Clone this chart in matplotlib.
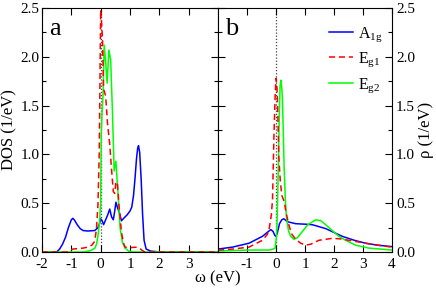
import matplotlib
matplotlib.use("Agg")
import matplotlib.pyplot as plt
from matplotlib.ticker import MultipleLocator

plt.rcParams['font.family'] = ['Liberation Serif', 'DejaVu Serif']
plt.rcParams['mathtext.fontset'] = 'custom'
plt.rcParams['mathtext.rm'] = 'Liberation Serif'
plt.rcParams['mathtext.it'] = 'Liberation Serif'
plt.rcParams['axes.unicode_minus'] = False

# ---- panel a ----
a_A1g_x = [-2.0, -1.5, -1.4, -1.3, -1.2, -1.1, -1.0, -0.95, -0.9, -0.8, -0.7, -0.6, -0.44, -0.2, -0.09, -0.03,
           0.0, 0.05, 0.1, 0.17, 0.24, 0.31, 0.37, 0.43, 0.48, 0.52, 0.58, 0.64, 0.71, 0.8, 0.9, 1.0, 1.06,
           1.12, 1.17, 1.22, 1.26, 1.29, 1.33, 1.38, 1.43, 1.48, 1.55, 1.7, 2.0, 4.0]
a_A1g_y = [0.0, 0.0, 0.03, 0.08, 0.15, 0.25, 0.33, 0.345, 0.33, 0.28, 0.24, 0.22, 0.215, 0.22, 0.25, 0.3,
           0.34, 0.32, 0.28, 0.33, 0.38, 0.44, 0.36, 0.33, 0.42, 0.51, 0.45, 0.4, 0.32, 0.35, 0.38, 0.42, 0.46,
           0.58, 0.75, 0.95, 1.06, 1.09, 1.02, 0.75, 0.38, 0.12, 0.03, 0.01, 0.0, 0.0]

a_Eg1_x = [-2.0, -1.3, -1.13, -0.95, -0.6, -0.44, -0.3, -0.2, -0.14, -0.09, -0.05, -0.03, 0.0, 0.03, 0.06,
           0.1, 0.17, 0.23, 0.31, 0.37, 0.43, 0.48, 0.52, 0.57, 0.63, 0.71, 0.78, 0.83, 1.0, 1.23, 1.32, 1.4, 1.5,
           2.0, 4.0]
a_Eg1_y = [0.0, 0.0, 0.0, 0.03, 0.04, 0.05, 0.07, 0.11, 0.25, 0.5, 1.0, 1.55, 2.48, 2.35, 2.2,
           1.67, 1.6, 1.33, 1.1, 0.85, 0.62, 0.6, 0.72, 0.7, 0.46, 0.2, 0.09, 0.05, 0.045, 0.05, 0.04, 0.02, 0.0,
           0.0, 0.0]

a_Eg2_x = [-2.0, -0.6, -0.4, -0.3, -0.2, -0.14, -0.09, -0.04, 0.0, 0.02, 0.05, 0.08, 0.12, 0.17, 0.22,
           0.28, 0.34, 0.4, 0.46, 0.52, 0.58, 0.66, 0.74, 0.83, 0.95, 1.1, 4.0]
a_Eg2_y = [0.0, 0.0, 0.01, 0.02, 0.04, 0.08, 0.17, 0.3, 0.51, 1.2, 1.45, 1.6, 2.12, 1.95, 1.73,
           2.07, 1.97, 1.45, 0.83, 0.93, 0.65, 0.25, 0.1, 0.04, 0.01, 0.0, 0.0]

# ---- panel b ----
b_A1g_x = [-2.0, -1.5, -0.93, -0.47, -0.18, -0.1, -0.04, 0.0, 0.05, 0.12, 0.2, 0.27, 0.4, 0.68, 1.0, 1.25,
           1.71, 2.0, 2.29, 2.7, 3.09, 3.5, 4.0]
b_A1g_y = [0.03, 0.05, 0.09, 0.16, 0.23, 0.21, 0.17, 0.16, 0.2, 0.29, 0.33, 0.34, 0.31, 0.29, 0.285, 0.28,
           0.24, 0.2, 0.16, 0.12, 0.09, 0.07, 0.055]

b_Eg1_x = [-2.0, -1.5, -0.93, -0.47, -0.3, -0.24, -0.16, -0.12, -0.07, -0.03, 0.0, 0.03, 0.05, 0.1, 0.15,
           0.2, 0.28, 0.35, 0.45, 0.55, 0.68, 0.85, 1.02, 1.2, 1.48, 1.94, 2.2, 2.52, 3.09, 3.5, 4.0]
b_Eg1_y = [0.02, 0.03, 0.05, 0.12, 0.18, 0.23, 0.38, 0.54, 1.2, 1.6, 1.78, 1.7, 1.57, 0.96, 0.72,
           0.58, 0.52, 0.4, 0.27, 0.18, 0.13, 0.09, 0.07, 0.08, 0.12, 0.14, 0.135, 0.12, 0.09, 0.07, 0.05]

b_Eg2_x = [-2.0, -0.93, -0.24, -0.1, -0.03, 0.02, 0.05, 0.08, 0.11, 0.14, 0.17, 0.2, 0.22, 0.25, 0.28,
           0.32, 0.36, 0.43, 0.51, 0.62, 0.75, 0.91, 1.1, 1.37, 1.55, 1.71, 1.9, 2.17, 2.4, 2.75, 3.2, 4.0]
b_Eg2_y = [0.01, 0.02, 0.02, 0.03, 0.04, 0.17, 0.45, 0.87, 1.35, 1.7, 1.76, 1.68, 1.58, 1.25, 0.87,
           0.55, 0.36, 0.22, 0.16, 0.13, 0.15, 0.21, 0.28, 0.33, 0.32, 0.28, 0.23, 0.16, 0.12, 0.07, 0.04, 0.02]

xticks_a = [-2, -1, 0, 1, 2, 3]
xticks_b = [-1, 0, 1, 2, 3, 4]
yticks = [0.0, 0.5, 1.0, 1.5, 2.0, 2.5]

BLUE, RED, GREEN = '#0000ff', '#ff0000', '#00ff00'
LW = 1.1

fig = plt.figure(figsize=(4.36, 2.88), dpi=100)
axa = fig.add_axes([42/436, 36/288, 176/436, 244/288])
axb = fig.add_axes([218/436, 36/288, 174/436, 244/288])

for ax in (axa, axb):
    ax.set_xlim(-2, 4)
    ax.set_ylim(0, 2.5)
    ax.axvline(0, color='#444444', ls=(0, (1, 1.5)), lw=0.9, zorder=1)
    ax.yaxis.set_minor_locator(MultipleLocator(0.25))
    ax.tick_params(which='both', direction='in', top=True, bottom=True, left=True, right=True,
                   labelsize=11)
    ax.tick_params(axis='y', pad=2)
    ax.tick_params(axis='x', pad=4)
    ax.tick_params(which='major', length=5, width=0.8)
    ax.tick_params(which='minor', length=3, width=0.8)
    ax.set_yticks(yticks)

axa.plot(a_A1g_x, a_A1g_y, color=BLUE, lw=LW, label=r'A$_{\mathrm{1g}}$')
axa.plot(a_Eg2_x, a_Eg2_y, color=GREEN, lw=LW, label=r'E$_{\mathrm{g2}}$')
axa.plot(a_Eg1_x, a_Eg1_y, color=RED, lw=LW, ls=(0, (4, 2.5)), label=r'E$_{\mathrm{g1}}$')

lb1, = axb.plot(b_A1g_x, b_A1g_y, color=BLUE, lw=LW, label=r'A$_{\mathrm{1g}}$')
lb3, = axb.plot(b_Eg2_x, b_Eg2_y, color=GREEN, lw=LW, label=r'E$_{\mathrm{g2}}$')
lb2, = axb.plot(b_Eg1_x, b_Eg1_y, color=RED, lw=LW, ls=(0, (4, 2.5)), label=r'E$_{\mathrm{g1}}$')

axa.set_xticks(xticks_a)
axa.set_yticklabels([f'{v:.1f}' for v in yticks])
axa.set_ylabel('DOS (1/eV)', fontsize=12, labelpad=2)

axb.set_xticks(xticks_b)
axb.yaxis.set_label_position('right')
axb.tick_params(which='both', labelleft=False, labelright=True)
axb.tick_params(axis='y', pad=3)
axb.set_yticklabels([f'{v:.1f}' for v in yticks])
axb.set_ylabel('ρ (1/eV)', fontsize=12, labelpad=2)

fig.text(218/436, 1 - 278/288, 'ω (eV)', ha='center', va='center', fontsize=12)

axa.text(0.04, 0.96, 'a', transform=axa.transAxes, fontsize=19, va='top', ha='left')
axb.text(0.04, 0.96, 'b', transform=axb.transAxes, fontsize=19, va='top', ha='left')

axb.legend(handles=[lb1, lb2, lb3], loc='upper right', bbox_to_anchor=(1.0, 0.97), frameon=False,
           fontsize=11.5, handlelength=1.5, handletextpad=0.3, labelspacing=0.45, borderaxespad=0.2)

fig.savefig('out.png', dpi=100)
